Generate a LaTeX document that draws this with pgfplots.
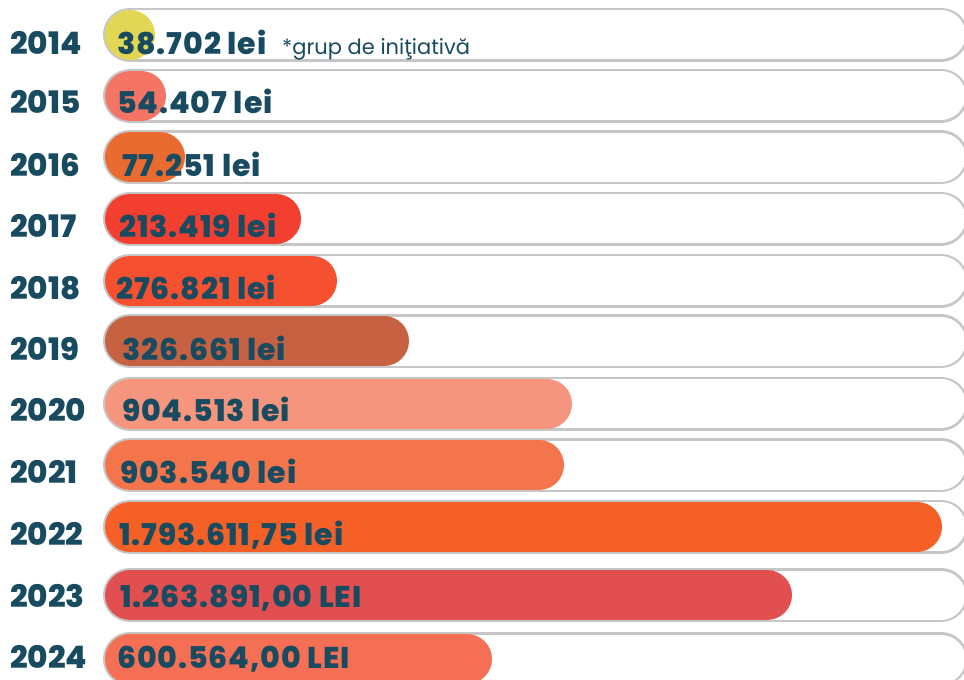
\documentclass[border=0pt]{standalone}
\usepackage{pgfplots}
\pgfplotsset{compat=1.18}
\usepackage{fontspec}
\setmainfont{Poppins}
\newfontface\xb{Poppins ExtraBold}[LetterSpace=3]
\newfontface\xby{Poppins ExtraBold}
\definecolor{txt}{HTML}{184B60}
\definecolor{trackgray}{HTML}{C6C6C6}
\definecolor{c2014}{HTML}{E2D755}
\definecolor{c2015}{HTML}{F47465}
\definecolor{c2016}{HTML}{E96B30}
\definecolor{c2017}{HTML}{F23F2F}
\definecolor{c2018}{HTML}{F55130}
\definecolor{c2019}{HTML}{C66241}
\definecolor{c2020}{HTML}{F6957D}
\definecolor{c2021}{HTML}{F4754B}
\definecolor{c2022}{HTML}{F46025}
\definecolor{c2023}{HTML}{E24F50}
\definecolor{c2024}{HTML}{F56F55}
% row: #1 year, #2 row centre, #3 bar end (as drawn), #4 colour, #5 label, #6 label x, #7 text baseline
\newcommand{\barrow}[7]{%
  \addplot[draw=trackgray, line width=54pt, line cap=round, forget plot] coordinates {(130,#2) (941,#2)};
  \addplot[draw=white, line width=49pt, line cap=round, forget plot] coordinates {(130,#2) (941,#2)};
  \addplot[draw=#4, line width=50pt, line cap=round, forget plot] coordinates {(130,#2) (#3-25,#2)};
  \node[anchor=base west, text=txt, font=\fontsize{31}{31}\selectfont\xby, inner sep=0pt] at (axis cs:10,#7) {#1};
  \node[anchor=base west, text=txt, font=\fontsize{30}{30}\selectfont\xb, inner sep=0pt] at (axis cs:#6,#7) {#5};
}
\begin{document}
\begin{tikzpicture}
\begin{axis}[name=ax, width=964pt, height=680pt, scale only axis,
  xmin=0, xmax=964, ymin=0, ymax=680, y dir=reverse, hide axis, clip=true]
\barrow{2014}{34.5}{155.01}{c2014}{38.702 lei}{117}{54}
\barrow{2015}{95.5}{166}{c2015}{54.407 lei}{117}{113.5}
\barrow{2016}{157}{185}{c2016}{77.251 lei}{122}{176}
\barrow{2017}{218.5}{301}{c2017}{213.419 lei}{119}{237.5}
\barrow{2018}{280.5}{337}{c2018}{276.821 lei}{116}{299}
\barrow{2019}{341}{409}{c2019}{326.661 lei}{122}{360}
\barrow{2020}{403.5}{572}{c2020}{904.513 lei}{122}{421}
\barrow{2021}{465}{564}{c2021}{903.540 lei}{120}{483}
\barrow{2022}{526.5}{942}{c2022}{1.793.611,75 lei}{119}{545}
\barrow{2023}{595}{792}{c2023}{1.263.891,00 LEI}{120}{607}
\barrow{2024}{659}{492}{c2024}{600.564,00 LEI}{117}{668}
\node[anchor=base west, text=txt, font=\fontsize{21}{21}\selectfont, inner sep=0pt] at (axis cs:282,54) {*grup de iniţiativă};
\end{axis}
\pgfresetboundingbox
\path[use as bounding box] (ax.south west) rectangle (ax.north east);
\end{tikzpicture}
\end{document}
